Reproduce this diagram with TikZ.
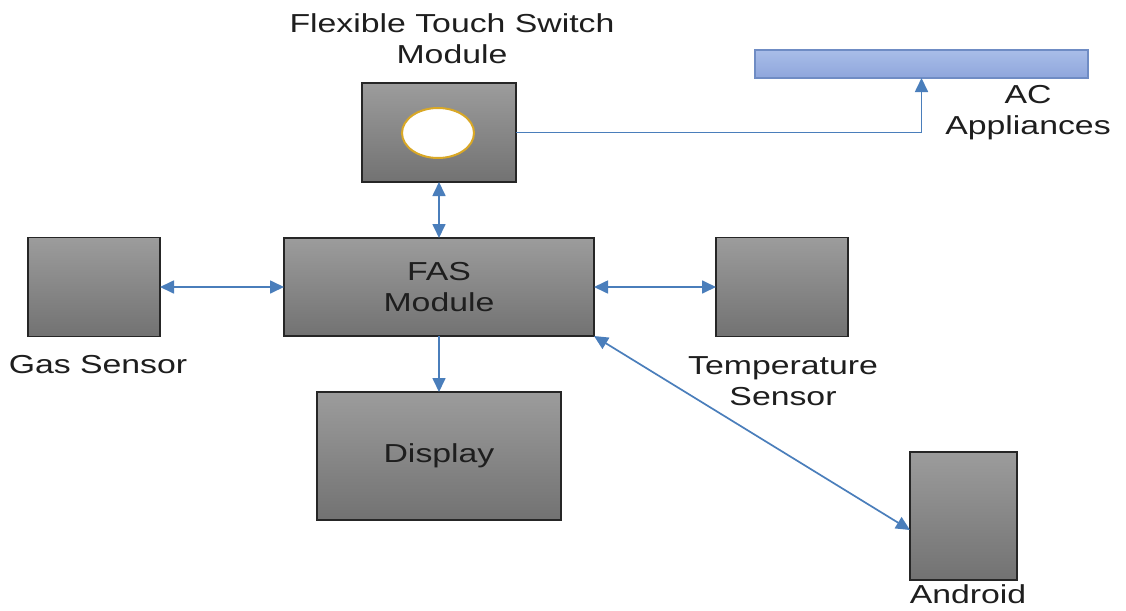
\documentclass[tikz,border=0pt]{standalone}
\usepackage{fontspec}
\setmainfont[FakeStretch=1.3]{Liberation Sans}
\usetikzlibrary{arrows.meta,shapes.geometric}
\definecolor{linkblue}{HTML}{4A7EBB}
\definecolor{txt}{HTML}{1E1E1E}
\definecolor{boxtop}{HTML}{9C9C9C}
\definecolor{boxbot}{HTML}{727272}
\definecolor{actop}{HTML}{A9BDE8}
\definecolor{acbot}{HTML}{8EA6DC}
\definecolor{acline}{HTML}{6F8CC4}
\definecolor{gold}{HTML}{D9A826}
\tikzset{
  graybox/.style={draw=black!85, line width=1.6pt, top color=boxtop, bottom color=boxbot, inner sep=0pt, outer sep=0pt, text=txt, align=center, font=\fontsize{26}{31}\selectfont},
  lbl/.style={text=txt, align=center, inner sep=0pt, font=\fontsize{26}{31}\selectfont},
  link/.style={draw=linkblue, line width=1.7pt, {Triangle[length=14pt,width=13pt]}-{Triangle[length=14pt,width=13pt]}},
  onelink/.style={draw=linkblue, line width=1.7pt, -{Triangle[length=14pt,width=13pt]}}
}
\begin{document}
\begin{tikzpicture}[x=1pt,y=-1pt]
\useasboundingbox (0,0) rectangle (1126,610);
\fill[white] (0,0) rectangle (1126,610);
% boxes
\node[graybox, minimum width=154pt, minimum height=99pt] (ts) at (439,132.5) {};
\node[draw=gold, line width=2pt, fill=white, ellipse, minimum width=72pt, minimum height=50pt, inner sep=0pt] (btn) at (438,133) {};
\node[draw=acline, line width=1.2pt, top color=actop, bottom color=acbot, minimum width=333pt, minimum height=28pt, inner sep=0pt, outer sep=0pt] (ac) at (921.5,64) {};
\node[graybox, minimum width=132pt, minimum height=99pt] (gas) at (94,287) {};
\node[graybox, minimum width=310pt, minimum height=98pt] (fas) at (439,287) {FAS\\Module};
\node[graybox, minimum width=132pt, minimum height=99pt] (temp) at (782,287) {};
\node[graybox, minimum width=244pt, minimum height=128pt] (disp) at (439,456) {\raisebox{-5pt}{Display}};
\node[graybox, minimum width=107pt, minimum height=128pt] (andr) at (963.5,516) {};
% labels
\node[lbl] (tsl) at (452,39) {Flexible Touch Switch\\Module};
\node[lbl] (acl) at (1028,113) {AC\\Appliances};
\node[lbl] (gasl) at (98,365) {Gas Sensor};
\node[lbl] (templ) at (783,381) {Temperature\\Sensor};
\node[lbl] (andl) at (968,594) {Android};
% connectors
\draw[link] (ts.south) -- (fas.north);
\draw[link] (gas.east) -- (fas.west);
\draw[link] (fas.east) -- (temp.west);
\draw[onelink] (fas.south) -- (disp.north);
\draw[link] (fas.south east) -- ([yshift=-14pt]andr.west);
\draw[onelink] (ts.east) -| (ac.south);
\end{tikzpicture}
\end{document}
